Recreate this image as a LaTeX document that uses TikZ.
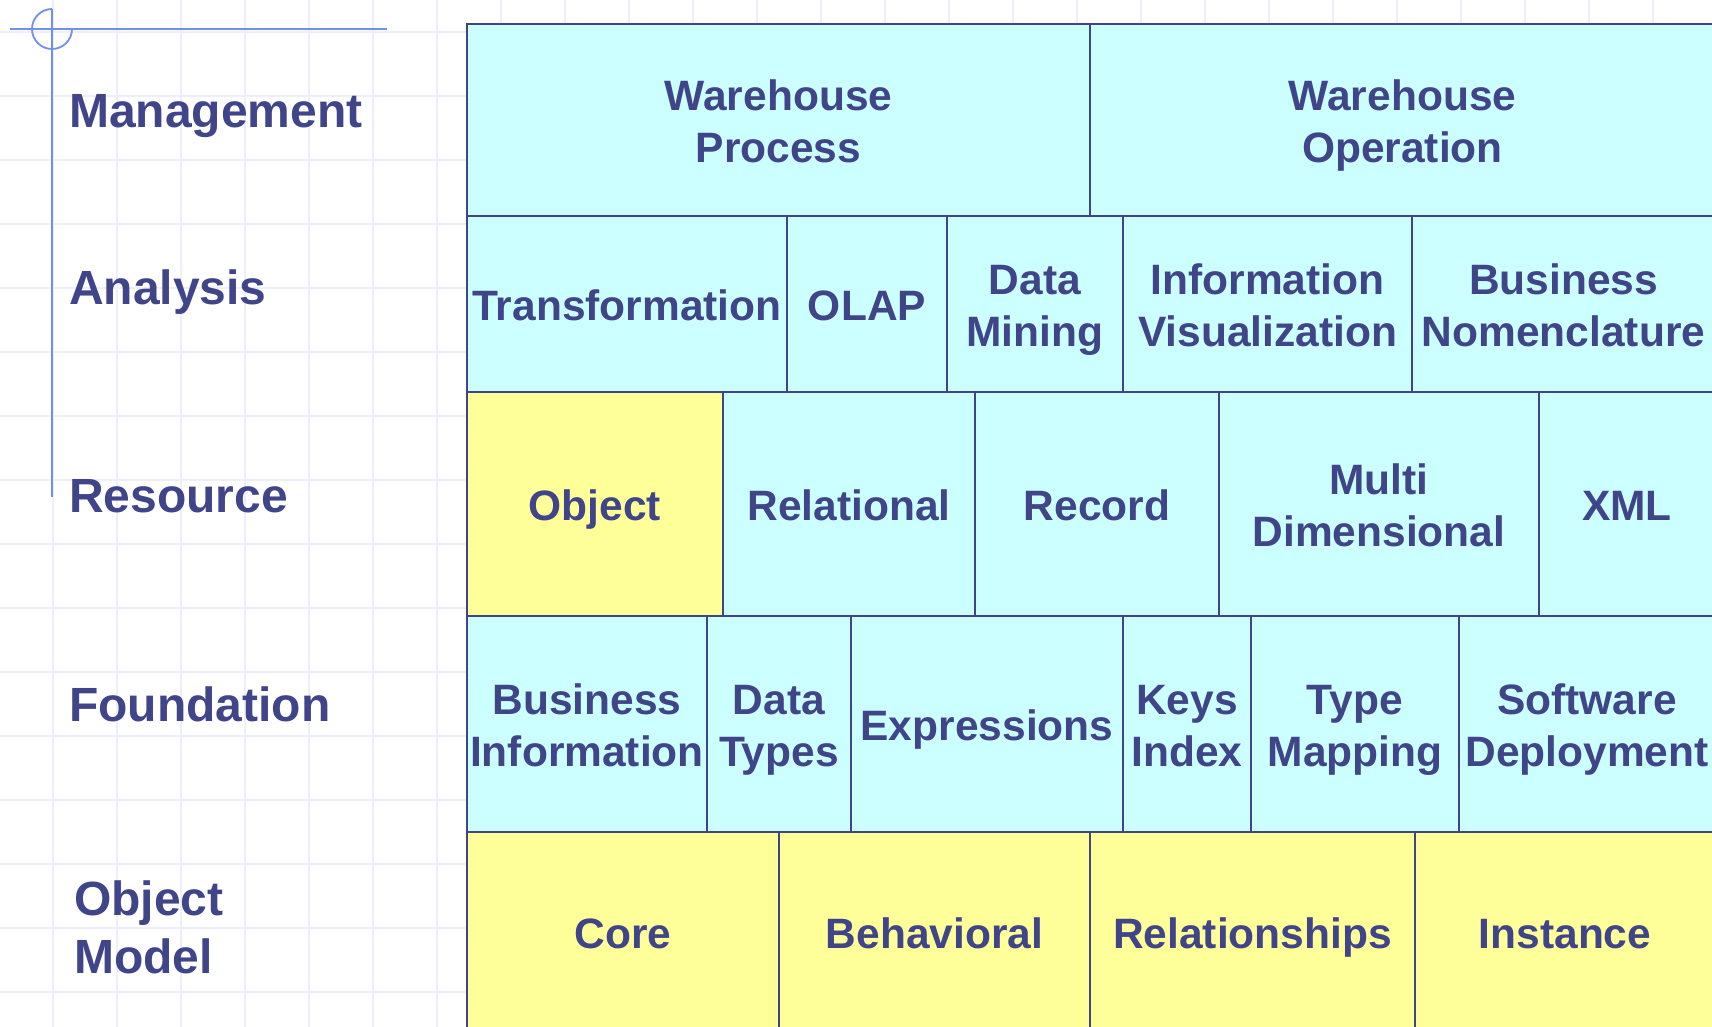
\documentclass[tikz,border=0pt]{standalone}
\usepackage{fontspec}
\setmainfont{Liberation Sans}
\usepackage{tikz}
\usetikzlibrary{positioning}

\definecolor{ink}{HTML}{404488}
\definecolor{cellcyan}{HTML}{CCFFFF}
\definecolor{cellyellow}{HTML}{FFFF99}
\definecolor{guide}{HTML}{7090F0}
\definecolor{gridline}{HTML}{EDF0FC}

\newcommand\cellstrut[1]{\rule[-0.212em]{0pt}{\dimexpr1.117em+#1\relax}}

\tikzset{
  cell/.style={draw=ink, line width=2pt, text=ink, inner sep=0pt, align=center,
    anchor=north west, font=\bfseries\fontsize{42.5}{52}\selectfont,
    execute at begin node=\cellstrut{4pt}, execute at end node=\cellstrut{0pt}},
  twoline/.style={execute at begin node=\rule{0pt}{94pt}},
  layer/.style={text=ink, inner sep=0pt, anchor=base west,
    font=\bfseries\fontsize{48}{58}\selectfont},
}

\begin{document}
\begin{tikzpicture}[x=1pt, y=-1pt]
        \useasboundingbox (0, 0) rectangle (1712, 1027);
        \clip (0, 0) rectangle (1712, 1027);
        \fill[white] (0, 0) rectangle (1712, 1027);
        \foreach \gx in {53, 117, ..., 1712}
                \draw[gridline, line width=2pt] (\gx, 0) -- (\gx, 1027);
        \foreach \gy in {32, 96, ..., 1027}
                \draw[gridline, line width=2pt] (0, \gy) -- (1712, \gy);
        % guide lines at the top left
        \draw[guide, line width=1.8pt] (10, 29) -- (387, 29);
        \draw[guide, line width=1.8pt] (52, 9) -- (52, 497);
        \draw[guide, line width=1.8pt] (52, 9) arc [start angle=-90, end angle=-360, radius=20];
        % layer names
        \node[layer] (management) at (69, 128) {Management};
        \node[layer] (analysis) at (69, 304) {Analysis};
        \node[layer] (resource) at (69, 512) {Resource};
        \node[layer] (foundation) at (69, 721) {Foundation};
        \node[layer, align=left] (objmodel) at (74, 973) {Object\\Model};
        % management
        \node[cell, twoline, fill=cellcyan, minimum width=623pt, minimum height=192pt] (whprocess) at (466, 23) {Warehouse\\Process};
        \node[cell, twoline, fill=cellcyan, minimum width=625pt, minimum height=192pt] (whoperation) at (1089, 23) {Warehouse\\Operation};
        % analysis
        \node[cell, fill=cellcyan, minimum width=320pt, minimum height=176pt] (transform) at (466, 215) {Transformation};
        \node[cell, fill=cellcyan, minimum width=160pt, minimum height=176pt] (olap) at (786, 215) {OLAP};
        \node[cell, twoline, fill=cellcyan, minimum width=176pt, minimum height=176pt] (mining) at (946, 215) {Data\\Mining};
        \node[cell, twoline, fill=cellcyan, minimum width=289pt, minimum height=176pt] (infovis) at (1122, 215) {Information\\Visualization};
        \node[cell, twoline, fill=cellcyan, minimum width=303pt, minimum height=176pt] (nomenclature) at (1411, 215) {Business\\Nomenclature};
        % resource
        \node[cell, fill=cellyellow, minimum width=256pt, minimum height=224pt] (object) at (466, 391) {Object};
        \node[cell, fill=cellcyan, minimum width=252pt, minimum height=224pt] (relational) at (722, 391) {Relational};
        \node[cell, fill=cellcyan, minimum width=244pt, minimum height=224pt] (record) at (974, 391) {Record};
        \node[cell, twoline, fill=cellcyan, minimum width=320pt, minimum height=224pt] (multidim) at (1218, 391) {Multi\\Dimensional};
        \node[cell, fill=cellcyan, minimum width=176pt, minimum height=224pt] (xml) at (1538, 391) {XML};
        % foundation
        \node[cell, twoline, fill=cellcyan, minimum width=240pt, minimum height=216pt] (businfo) at (466, 615) {Business\\Information};
        \node[cell, twoline, fill=cellcyan, minimum width=144pt, minimum height=216pt] (datatypes) at (706, 615) {Data\\Types};
        \node[cell, fill=cellcyan, minimum width=272pt, minimum height=216pt] (expressions) at (850, 615) {Expressions};
        \node[cell, twoline, fill=cellcyan, minimum width=128pt, minimum height=216pt] (keysindex) at (1122, 615) {Keys\\Index};
        \node[cell, twoline, fill=cellcyan, minimum width=208pt, minimum height=216pt] (typemap) at (1250, 615) {Type\\Mapping};
        \node[cell, twoline, fill=cellcyan, minimum width=256pt, minimum height=216pt] (deployment) at (1458, 615) {Software\\Deployment};
        % object model
        \node[cell, fill=cellyellow, minimum width=312pt, minimum height=200pt] (core) at (466, 831) {Core};
        \node[cell, fill=cellyellow, minimum width=311pt, minimum height=200pt] (behavioral) at (778, 831) {Behavioral};
        \node[cell, fill=cellyellow, minimum width=325pt, minimum height=200pt] (relationships) at (1089, 831) {Relationships};
        \node[cell, fill=cellyellow, minimum width=300pt, minimum height=200pt] (instance) at (1414, 831) {Instance};
\end{tikzpicture}
\end{document}
